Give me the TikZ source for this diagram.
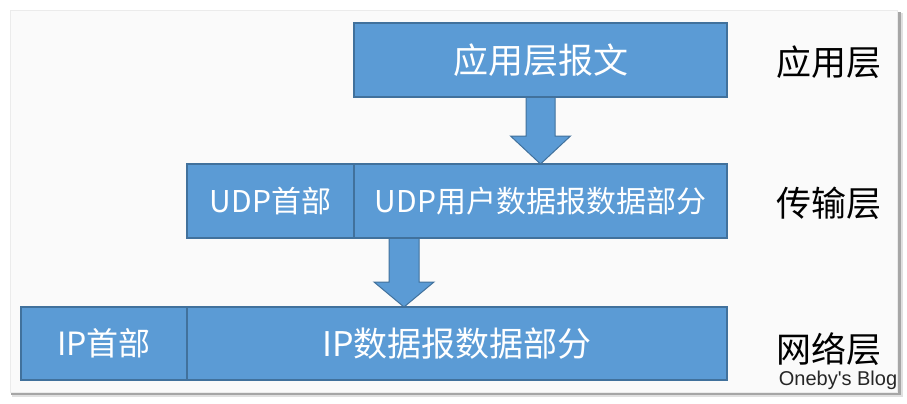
\documentclass[tikz,border=0pt]{standalone}
\usepackage{fontspec}
\newfontfamily\cjk{Noto Sans CJK SC}
\newfontfamily\blogfont{Liberation Sans}
\usetikzlibrary{calc,positioning}
\definecolor{segblue}{HTML}{5B9BD5}
\definecolor{segline}{HTML}{41719C}
\definecolor{panelgray}{HTML}{FAFAFA}
\begin{document}
\begin{tikzpicture}[x=1pt,y=-1pt,line width=1.4pt,
  seg/.style={draw=segline,fill=segblue,text=white,outer sep=0pt,inner sep=0pt,
    font=\cjk\fontsize{34}{38}\selectfont},
  topseg/.style={seg,font=\cjk\fontsize{35}{38}\selectfont},
  midseg/.style={seg,font=\cjk\fontsize{30}{34}\selectfont},
  hdrseg/.style={seg,font=\cjk\fontsize{32}{36}\selectfont},
  blockarrow/.style={draw=segline,fill=segblue,line width=1pt,line join=miter},
  layer/.style={font=\cjk\fontsize{35}{38}\selectfont,text=black},
  blog/.style={font=\blogfont\fontsize{20}{22}\selectfont,text=black!85}]
  \useasboundingbox (0,0) rectangle (907,404);
  % panel with its shadow
  \fill[black!12] (12,13) rectangle (903,397);
  \fill[black!35] (11,12) rectangle (901,395);
  \fill[panelgray,draw=black!8,line width=.6pt] (10,10) rectangle (897,392);
  % arrows between the layers
  \coordinate (s1) at (540.5,97);
  \coordinate (t1) at (540.5,164);
  \draw[blockarrow] ($(s1)+(-14.5,0)$) -- ($(t1)+(-14.5,-28)$) -- ($(t1)+(-30,-28)$) -- (t1)
    -- ($(t1)+(30,-28)$) -- ($(t1)+(14.5,-28)$) -- ($(s1)+(14.5,0)$) -- cycle;
  \coordinate (s2) at (404,238);
  \coordinate (t2) at (404,307);
  \draw[blockarrow] ($(s2)+(-15,0)$) -- ($(t2)+(-15,-25)$) -- ($(t2)+(-30,-25)$) -- (t2)
    -- ($(t2)+(30,-25)$) -- ($(t2)+(15,-25)$) -- ($(s2)+(15,0)$) -- cycle;
  % segments
  \node[topseg,minimum width=373pt,minimum height=74pt] (app) at (540.5,60) {应用层报文};
  \node[midseg,minimum width=167pt,minimum height=74pt] (udphdr) at (270.5,201) {UDP首部};
  \node[midseg,minimum width=373pt,minimum height=74pt,right=0pt of udphdr] (udpdata) {UDP用户数据报数据部分};
  \node[hdrseg,minimum width=166pt,minimum height=73pt] (iphdr) at (104,343.5) {IP首部};
  \node[seg,minimum width=540pt,minimum height=73pt,right=0pt of iphdr] (ipdata) {IP数据报数据部分};
  % layer names
  \node[layer] (lapp) at (829,62) {应用层};
  \node[layer] (ltrans) at (829,203) {传输层};
  \node[layer] (lnet) at (829,349) {网络层};
  \node[blog] (blog) at (838,380) {Oneby's Blog};
\end{tikzpicture}
\end{document}
